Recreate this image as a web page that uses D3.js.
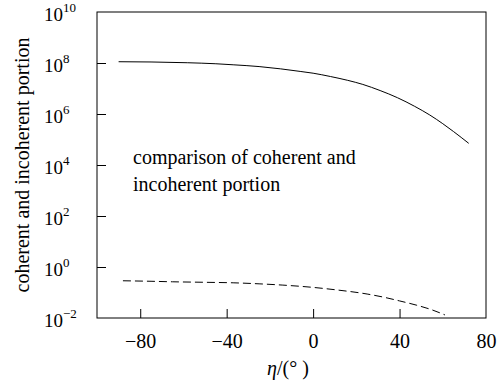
<!DOCTYPE html>
<html>
  <head>
    <meta charset="utf-8" />
    <title>coherent and incoherent portion</title>
    <script src="https://d3js.org/d3.v7.min.js"></script>
    <style>
      body { margin: 0; background: white; }
      text { font-family: "Liberation Serif", "Times New Roman", serif; fill: #000; }
    </style>
  </head>
  <body>
    <svg width="500" height="381" id="chart"></svg>

    <script>
      // eta angle (deg) and log10 of the value
      var etaCoherent = [-90, -75, -58, -45, -37, -25, -15, -6, 0, 8, 16, 23, 31, 39, 47, 54, 60, 65, 72];
      var logCoherent = [8.05, 8.04, 8.01, 7.97, 7.93, 7.86, 7.77, 7.67, 7.6, 7.47, 7.32, 7.16, 6.92, 6.64, 6.3, 5.96, 5.62, 5.31, 4.85];

      var etaIncoherent = [-88, -75, -65, -50, -37, -25, -14, 0, 10, 25, 33, 40, 48, 55, 61];
      var logIncoherent = [-0.54, -0.56, -0.58, -0.6, -0.62, -0.66, -0.71, -0.8, -0.89, -1.06, -1.19, -1.33, -1.5, -1.68, -1.88];

      var xTicks = [-80, -40, 0, 40, 80];
      var yTickExps = [10, 8, 6, 4, 2, 0, -2];

      var svg = d3.select("#chart");
      var mLeft = 97, mRight = 486, mTop = 12, mBottom = 318;

      var x = d3.scaleLinear().domain([-100, 80]).range([mLeft, mRight]);
      var y = d3.scaleLog().domain([1e-2, 1e10]).range([mBottom, mTop]);

      // frame
      svg.append("rect")
        .attr("x", mLeft).attr("y", mTop)
        .attr("width", mRight - mLeft).attr("height", mBottom - mTop)
        .attr("fill", "none").attr("stroke", "#000").attr("stroke-width", 1);

      // x axis: ticks inside, labels below
      var xAxis = d3.axisBottom(x).tickValues(xTicks).tickSize(-9).tickPadding(16)
        .tickFormat(function(d){ return d < 0 ? "\u2212" + Math.abs(d) : d; });
      var gx = svg.append("g").attr("transform", "translate(0," + mBottom + ")").call(xAxis);
      gx.select(".domain").remove();
      gx.selectAll(".tick line").attr("stroke", "#000");
      gx.selectAll(".tick line").filter(function(d){ return d === 80; }).remove();
      gx.selectAll(".tick text")
        .style("font-family", "'Liberation Serif', serif")
        .style("font-size", "20px").attr("fill", "#000");

      // y axis: log decades, ticks inside, labels as 10^n
      var yAxis = d3.axisLeft(y).tickValues(yTickExps.map(function(e){ return Math.pow(10, e); }))
        .tickSize(-9).tickFormat("");
      var gy = svg.append("g").attr("transform", "translate(" + mLeft + ",0)").call(yAxis);
      gy.select(".domain").remove();
      gy.selectAll(".tick line").attr("stroke", "#000");
      gy.selectAll(".tick line").filter(function(d){ return d === 1e10 || d === 1e-2; }).remove();

      var labels = svg.append("g").selectAll("text")
        .data(yTickExps).enter().append("text")
        .attr("x", 44)
        .attr("y", function(e){ return y(Math.pow(10, e)) + 9; })
        .style("font-size", "19px");
      labels.append("tspan").text("10");
      labels.append("tspan")
        .attr("dy", -9)
        .style("font-size", "13px")
        .text(function(e){ return e < 0 ? "\u2212" + Math.abs(e) : e; });

      // lines
      var line = d3.line()
        .x(function(d){ return x(d[0]); })
        .y(function(d){ return y(Math.pow(10, d[1])); })
        .curve(d3.curveMonotoneX);

      svg.append("path")
        .datum(d3.zip(etaCoherent, logCoherent))
        .attr("d", line)
        .attr("fill", "none").attr("stroke", "#000").attr("stroke-width", 1);

      svg.append("path")
        .datum(d3.zip(etaIncoherent, logIncoherent))
        .attr("d", line)
        .attr("fill", "none").attr("stroke", "#000").attr("stroke-width", 1)
        .attr("stroke-dasharray", "8,4");

      // annotation
      var note = svg.append("text").attr("x", 133).attr("y", 164).style("font-size", "20px");
      note.append("tspan").attr("x", 133).text("comparison of coherent and");
      note.append("tspan").attr("x", 133).attr("dy", 27).text("incoherent portion");

      // axis titles
      var xt = svg.append("text").attr("x", 267).attr("y", 375).style("font-size", "20px");
      xt.append("tspan").style("font-style", "italic").text("\u03b7");
      xt.append("tspan").text("/(\u00b0 )");

      svg.append("text")
        .attr("transform", "translate(29," + ((mTop + mBottom) / 2) + ") rotate(-90)")
        .attr("text-anchor", "middle")
        .style("font-size", "20px")
        .text("coherent and incoherent portion");
    </script>
  </body>
</html>
